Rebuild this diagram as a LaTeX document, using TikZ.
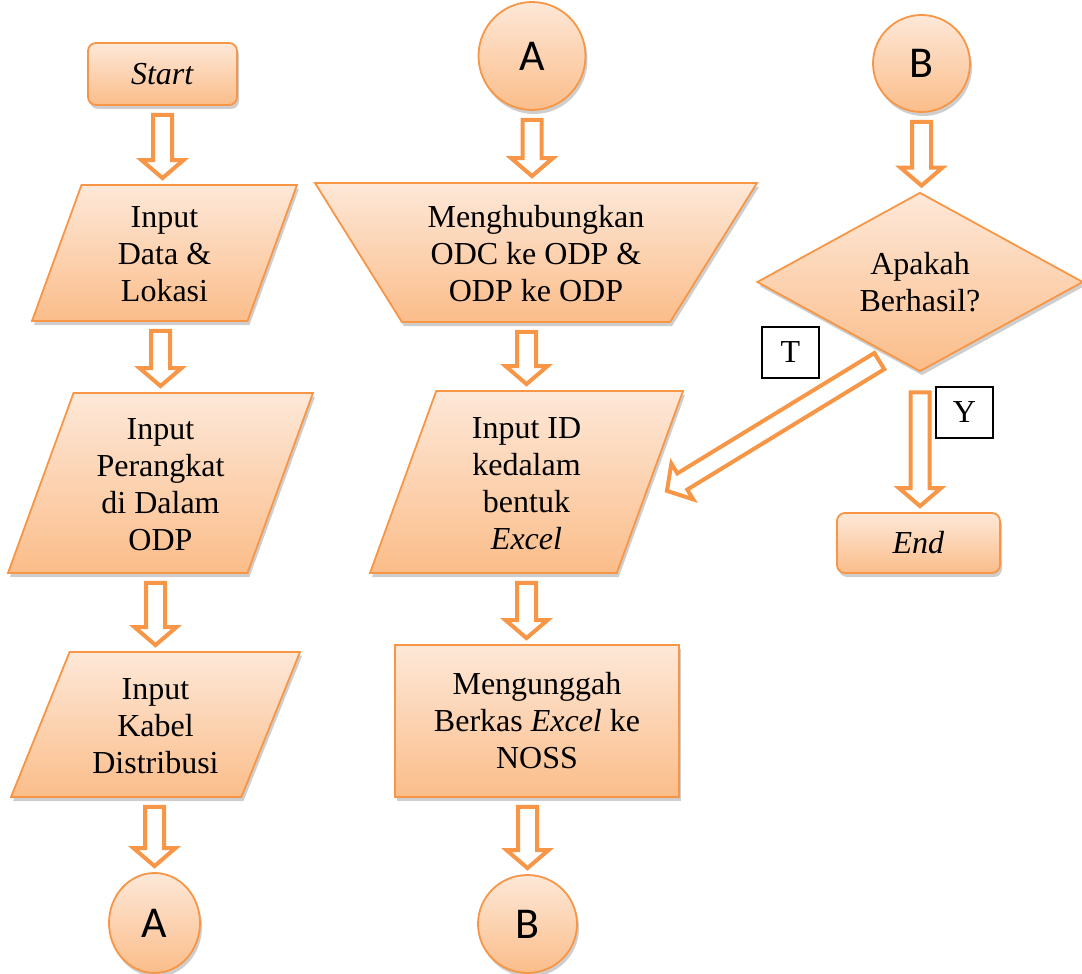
\documentclass[tikz,border=0pt]{standalone}
\usepackage{fontspec}
\setmainfont{Liberation Serif}
\newfontfamily\circfont{Carlito}
\usetikzlibrary{shapes.geometric,shadows,calc}
\definecolor{boxorange}{HTML}{F79646}
\definecolor{filltop}{HTML}{FDE8D8}
\definecolor{fillbot}{HTML}{FBBD8A}
% text of a slanted box, lowered by #1, with no height of its own
\newcommand{\slanttext}[2]{\raisebox{#1}[0pt][0pt]{\begin{tabular}{@{}c@{}}#2\end{tabular}}}
\tikzstyle{base} = [draw=boxorange, line width=0.9pt, top color=filltop, bottom color=fillbot, drop shadow={shadow xshift=1pt, shadow yshift=-2pt, fill=black!38}, text centered, align=center, inner sep=0pt, font=\fontsize{16}{18.5}\selectfont]
\tikzstyle{startstop} = [base, rectangle, rounded corners=4pt]
\tikzstyle{io} = [base, trapezium, trapezium left angle=70, trapezium right angle=110, trapezium stretches body]
\tikzstyle{manual} = [base, trapezium, trapezium left angle=58, trapezium right angle=58, shape border rotate=180, trapezium stretches body]
\tikzstyle{process} = [base, rectangle]
\tikzstyle{decision} = [base, diamond, aspect=2]
\tikzstyle{connector} = [base, ellipse, font=\circfont\fontsize{22}{22}\selectfont]
\tikzstyle{answer} = [draw=black, line width=0.6pt, fill=white, minimum width=28.5pt, minimum height=25.5pt, font=\fontsize{16}{18.5}\selectfont]
\tikzstyle{blockarrow} = [draw=boxorange, line width=2pt, fill=white, line join=miter,
  to path={
    ($(\tikztostart)!4.5pt!(\tikztotarget)$) coordinate (ba-s)
    ($(\tikztotarget)!3pt!(\tikztostart)$) coordinate (ba-e)
    ($(ba-e)!9pt!(ba-s)$) coordinate (ba-n)
    ($(ba-s)!4.75pt!90:(ba-e)$) -- ($(ba-n)!4.75pt!-90:(ba-s)$)
    -- ($(ba-n)!10.5pt!-90:(ba-s)$) -- (ba-e)
    -- ($(ba-n)!10.5pt!90:(ba-s)$) -- ($(ba-n)!4.75pt!90:(ba-s)$)
    -- ($(ba-s)!4.75pt!-90:(ba-e)$) -- cycle}]
\begin{document}
\begin{tikzpicture}[x=0.5pt, y=-0.5pt]
    \useasboundingbox (0,0) rectangle (1082,974);

    % left column
    \node (start) [startstop, minimum width=74.5pt, minimum height=31pt] at (162.5,74) {\textit{Start}};
    \node (data) [io, inner ysep=34pt, minimum width=132.5pt] at (164.5,253) {\slanttext{-6.5pt}{Input\\Data \&\\Lokasi}};
    \node (perangkat) [io, inner ysep=45pt, minimum width=152.5pt] at (160.5,483) {\slanttext{-6.5pt}{Input\\Perangkat\\di Dalam\\ODP}};
    \node (kabel) [io, trapezium left angle=68, trapezium right angle=112, inner ysep=36.25pt, minimum width=144.5pt] at (155.5,724.5) {\slanttext{-6.5pt}{Input\\Kabel\\Distribusi}};
    \node (endA) [connector, minimum width=45.5pt, minimum height=50pt] at (154.5,923) {A};

    % middle column
    \node (topA) [connector, minimum width=53.5pt, minimum height=54pt] at (532,56) {A};
    \node (hubung) [manual, inner ysep=34.75pt, minimum width=221pt] at (536,252.5) {\slanttext{-6.5pt}{Menghubungkan\\ODC ke ODP \&\\ODP ke ODP}};
    \node (inputid) [io, inner ysep=45.5pt, minimum width=156.5pt] at (526.5,482) {\slanttext{-6.5pt}{Input ID\\kedalam\\bentuk\\\textit{Excel}}};
    \node (unggah) [process, minimum width=142pt, minimum height=76pt] at (537,721) {Mengunggah\\Berkas \textit{Excel} ke\\NOSS};
    \node (endB) [connector, minimum width=49.5pt, minimum height=49pt] at (527.5,924) {B};

    % right column
    \node (topB) [connector, minimum width=48.5pt, minimum height=48.5pt] at (921.5,63.5) {B};
    \node (berhasil) [decision, minimum width=163pt, minimum height=89.5pt] at (920,282) {Apakah\\Berhasil?};
    \node (finish) [startstop, minimum width=81.5pt, minimum height=30pt] at (918.5,543) {\textit{End}};
    \node (labelT) [answer] at (790.5,352.5) {T};
    \node (labelY) [answer] at (964.5,412.5) {Y};

    \coordinate (Ytail) at ($(berhasil.south)+(0,11)$);
    \coordinate (Ttail) at ($(berhasil.south)+(-33,-16)$);
    \coordinate (Ttip) at ($(inputid.east)+(11,12)$);

    \draw [blockarrow] (start.south) to (start.south |- data.north);
    \draw [blockarrow] (perangkat.north |- data.south) to (perangkat.north);
    \draw [blockarrow] (kabel.north |- perangkat.south) to (kabel.north);
    \draw [blockarrow] (endA.north |- kabel.south) to (endA.north);

    \draw [blockarrow] (topA.south) to (topA.south |- hubung.north);
    \draw [blockarrow] (inputid.north |- hubung.south) to (inputid.north);
    \draw [blockarrow] (inputid.south) to (inputid.south |- unggah.north);
    \draw [blockarrow] (endB.north |- unggah.south) to (endB.north);

    \draw [blockarrow] (topB.south) to (topB.south |- berhasil.north);
    \draw [blockarrow] (Ytail) to (Ytail |- finish.north);
    \draw [blockarrow] (Ttail) to (Ttip);
\end{tikzpicture}
\end{document}
